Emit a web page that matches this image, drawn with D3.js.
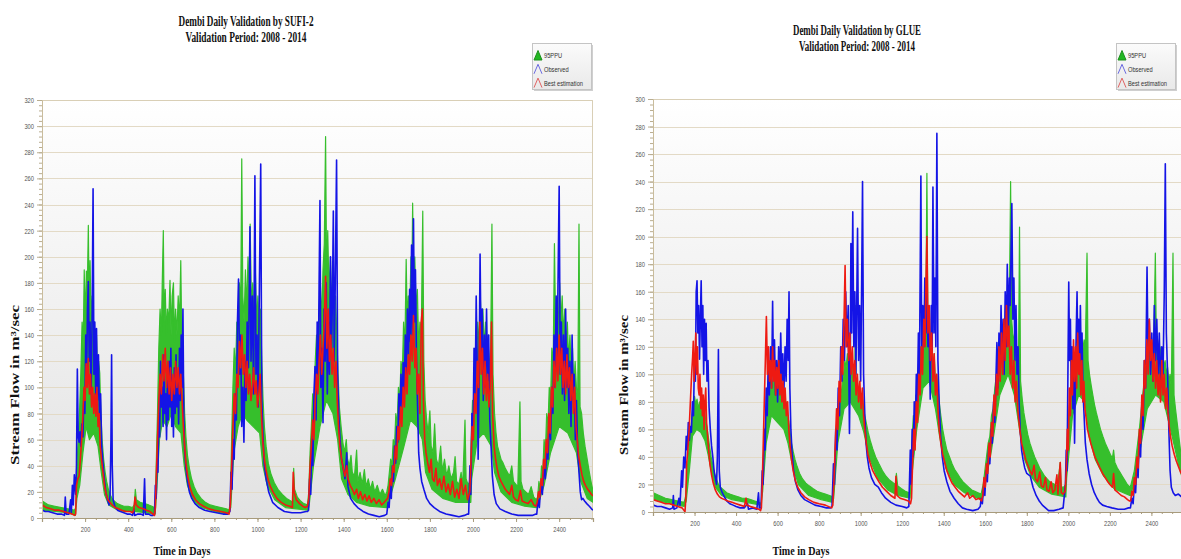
<!DOCTYPE html>
<html>
<head>
<meta charset="utf-8">
<script src="https://cdn.jsdelivr.net/npm/d3@7"></script>
<style>
  html, body { margin: 0; padding: 0; background: #fff; }
  svg { display: block; }
</style>
</head>
<body>
<svg id="chart" width="1181" height="559"></svg>
<script>
// tick labels
const dayTicks = [200, 400, 600, 800, 1000, 1200, 1400, 1600, 1800, 2000, 2200, 2400];
const sufiFlowTicks = [0, 20, 40, 60, 80, 100, 120, 140, 160, 180, 200, 220, 240, 260, 280, 300, 320];
const glueFlowTicks = [0, 20, 40, 60, 80, 100, 120, 140, 160, 180, 200, 220, 240, 260, 280, 300];
const legendLabels = ["95PPU", "Observed", "Best estimation"];

// SUFI-2 panel, [day, m3/s]
const sufiObserved = [
  [1,6],[15,5],[30,5],[50,4],[70,3],[90,3],[104,2],[108,16],[112,3],[125,3],[133,14],[136,4],[141,25],[145,10],[150,33],[156,18],[160,40],[164,114],[168,62],[172,58],[176,66],[180,55],[185,72],[190,62],[195,98],[199,80],[203,140],[207,105],[211,160],[215,181],[219,120],[223,150],[228,95],[233,160],[237,252],[241,110],[245,150],[249,95],[253,145],[257,90],[262,125],[267,75],[272,95],[277,55],[283,42],[289,30],[296,20],[304,14],[311,10],[316,18],[320,60],[323,125],[326,40],[330,14],[338,9],[350,6],[364,5],
  [380,4],[395,3],[410,3],[420,2],[426,7],[430,2],[445,3],[460,3],[470,2],[476,30],[480,3],[495,3],[505,2],[515,2],[522,3],[526,25],[530,15],[534,45],[538,35],[542,80],[546,62],[550,120],[554,85],[558,100],[562,70],[566,125],[570,80],[574,95],[578,60],[582,110],[586,75],[590,120],[594,85],[598,130],[602,70],[606,100],[610,62],[614,115],[618,80],[622,125],[626,85],[630,110],[634,72],[638,130],[642,90],[646,140],[650,100],[654,160],[658,78],[662,52],[668,38],[675,28],[684,20],[695,15],[710,11],[730,8],[755,6],[780,5],[810,4],[840,3],[862,3],
  [872,5],[877,35],[882,22],[887,60],[892,45],[897,95],[902,75],[907,150],[912,183],[917,110],[922,140],[927,70],[932,100],[937,58],[942,120],[947,90],[952,150],[958,115],[965,223],[970,120],[976,170],[982,95],[988,262],[993,110],[998,140],[1003,85],[1009,180],[1015,271],[1020,90],[1026,60],[1032,40],[1040,30],[1052,20],[1070,12],[1095,8],[1125,5],[1160,4],[1200,4],[1225,5],
  [1232,5],[1237,6],[1242,30],[1247,18],[1252,60],[1257,40],[1262,95],[1267,116],[1272,75],[1277,150],[1282,110],[1286,180],[1290,243],[1294,100],[1299,130],[1304,73],[1309,160],[1314,120],[1319,180],[1324,95],[1329,150],[1334,110],[1339,200],[1344,130],[1348,170],[1352,235],[1356,120],[1361,180],[1367,274],[1372,110],[1377,80],[1383,60],[1390,45],[1398,38],[1406,30],[1414,50],[1420,24],[1432,15],[1448,11],[1465,8],[1490,5],[1515,3],[1540,2],[1565,1],[1590,2],
  [1600,3],[1606,12],[1611,8],[1616,25],[1621,15],[1626,40],[1631,28],[1636,55],[1641,42],[1646,70],[1651,58],[1656,95],[1661,75],[1666,110],[1671,85],[1676,119],[1681,95],[1686,140],[1691,110],[1696,160],[1701,125],[1706,175],[1710,135],[1715,209],[1719,140],[1724,229],[1728,150],[1733,190],[1738,120],[1743,85],[1748,50],[1754,38],[1762,28],[1772,22],[1785,15],[1800,11],[1820,8],[1845,5],[1875,3],[1905,2],[1935,1],[1960,2],[1975,3],
  [1980,3],[1986,40],[1990,18],[1995,80],[2000,60],[2005,130],[2010,95],[2015,170],[2020,110],[2024,45],[2028,100],[2033,202],[2038,120],[2043,160],[2048,90],[2053,140],[2058,100],[2063,160],[2068,105],[2073,140],[2078,75],[2084,55],[2090,32],[2098,18],[2108,11],[2125,7],[2150,5],[2180,3],[2210,2],[2245,2],[2275,2],[2292,3],
  [2296,3],[2302,14],[2308,8],[2315,25],[2322,18],[2330,40],[2336,30],[2342,55],[2348,45],[2354,75],[2360,60],[2366,100],[2371,80],[2376,140],[2381,100],[2386,170],[2390,120],[2395,185],[2400,254],[2405,110],[2410,150],[2415,95],[2420,140],[2425,90],[2430,160],[2435,100],[2440,130],[2445,80],[2450,120],[2455,70],[2460,140],[2465,90],[2470,110],[2475,60],[2480,90],[2486,50],[2492,35],[2498,20],[2504,14],[2510,15],[2518,13],[2528,11],[2540,9],[2550,7],[2557,6]
];
const sufiBest = [
  [1,10],[20,8],[40,7],[60,6],[80,6],[100,5],[120,4],[140,3],[152,2],[156,3],[160,25],[166,30],[172,32],[178,45],[184,60],[190,80],[195,100],[200,90],[205,118],[210,100],[215,122],[220,95],[225,110],[230,85],[235,100],[240,80],[245,95],[250,78],[255,100],[260,70],[265,80],[270,55],[276,45],[283,35],[290,25],[298,18],[306,14],[315,12],[325,10],[340,8],[355,7],[370,6],[390,5],[410,5],[420,4],[426,6],[432,16],[437,10],[450,8],[470,7],[485,6],[500,5],[515,3],[522,2],[526,8],
  [530,30],[536,60],[542,90],[548,110],[554,95],[560,125],[566,105],[572,130],[578,100],[584,120],[590,95],[596,115],[602,90],[608,110],[614,95],[620,120],[626,100],[632,115],[638,95],[644,110],[650,90],[656,70],[662,55],[668,42],[676,32],[686,24],[698,18],[712,14],[730,11],[750,9],[775,7],[800,6],[830,5],[855,4],[868,3],
  [874,10],[880,40],[886,70],[892,95],[898,80],[904,110],[910,100],[916,135],[922,115],[928,140],[934,110],[940,125],[946,100],[952,120],[958,95],[964,110],[970,90],[976,100],[982,115],[988,95],[994,105],[1000,85],[1006,95],[1012,110],[1018,80],[1024,60],[1030,48],[1038,38],[1048,30],[1060,24],[1075,19],[1090,15],[1110,12],[1130,10],[1150,9],[1162,8],[1166,35],[1170,20],[1180,14],[1195,11],[1210,9],[1222,8],[1232,9],
  [1238,15],[1244,40],[1250,55],[1256,75],[1262,60],[1268,90],[1274,110],[1280,95],[1286,120],[1292,140],[1298,110],[1304,130],[1310,150],[1316,185],[1322,130],[1328,160],[1334,120],[1340,140],[1346,110],[1352,130],[1358,100],[1364,120],[1370,90],[1376,70],[1382,55],[1390,45],[1398,38],[1406,32],[1414,40],[1420,30],[1430,25],[1440,22],[1450,18],[1460,22],[1468,15],[1478,20],[1488,14],[1498,18],[1508,13],[1518,17],[1528,12],[1540,15],[1552,11],[1564,14],[1576,10],[1588,12],[1598,14],
  [1604,15],[1610,20],[1616,30],[1622,25],[1628,40],[1634,35],[1640,55],[1646,45],[1652,70],[1658,60],[1664,85],[1670,70],[1676,100],[1682,85],[1688,115],[1694,95],[1700,125],[1706,110],[1712,140],[1718,120],[1724,155],[1730,115],[1736,130],[1742,95],[1748,110],[1754,80],[1760,150],[1765,160],[1770,90],[1776,60],[1782,50],[1790,42],[1798,35],[1806,45],[1812,30],[1820,28],[1828,38],[1835,25],[1845,30],[1855,22],[1865,32],[1875,20],[1885,26],[1895,18],[1905,28],[1915,16],[1925,22],[1935,15],[1945,30],[1955,18],[1965,25],[1975,14],[1985,20],
  [1990,40],[1996,70],[2002,60],[2008,95],[2014,80],[2020,120],[2026,100],[2032,150],[2038,110],[2044,130],[2050,95],[2056,120],[2062,90],[2068,110],[2074,85],[2080,100],[2086,150],[2091,80],[2098,55],[2105,45],[2112,38],[2120,32],[2130,28],[2140,25],[2150,22],[2160,20],[2170,18],[2180,25],[2188,16],[2198,14],[2210,13],[2220,21],[2228,13],[2240,12],[2255,11],[2270,14],[2282,10],[2292,9],
  [2298,12],[2304,20],[2310,16],[2316,30],[2322,25],[2328,45],[2334,38],[2340,60],[2346,50],[2352,80],[2358,65],[2364,100],[2370,85],[2376,120],[2382,100],[2388,130],[2394,105],[2400,140],[2406,110],[2412,130],[2418,100],[2424,120],[2430,95],[2436,125],[2442,100],[2448,115],[2454,90],[2460,110],[2466,80],[2472,100],[2478,70],[2484,60],[2490,48],[2498,40],[2506,33],[2514,28],[2522,25],[2532,22],[2542,20],[2550,18],[2557,17]
];
const sufiUpper = [
  [1,13],[30,10],[60,9],[90,8],[120,7],[150,6],[158,8],[162,40],[168,60],[174,80],[180,110],[186,150],[191,130],[196,190],[201,150],[206,189],[210,170],[215,224],[219,160],[223,197],[228,150],[233,170],[238,130],[243,150],[248,120],[253,140],[258,110],[263,120],[268,111],[273,80],[279,60],[286,45],[293,35],[300,28],[308,22],[316,18],[325,15],[335,13],[350,11],[365,10],[380,9],[400,9],[420,8],[428,10],[433,22],[438,14],[455,12],[475,11],[495,10],[510,9],[520,8],[526,10],
  [530,40],[536,80],[542,130],[548,160],[554,140],[558,180],[563,220],[567,150],[572,175],[577,140],[582,160],[588,150],[594,182],[599,140],[604,170],[610,180],[615,135],[620,160],[626,140],[632,170],[638,150],[644,197],[649,130],[654,120],[658,100],[662,80],[668,62],[675,48],[684,38],[694,30],[706,24],[720,19],[738,15],[758,12],[780,10],[805,9],[830,8],[855,7],[868,6],
  [874,12],[880,60],[886,100],[892,130],[898,110],[904,150],[910,140],[916,180],[922,160],[927,275],[932,170],[938,150],[944,190],[950,160],[956,200],[962,170],[966,225],[972,160],[978,180],[984,150],[990,190],[996,150],[1002,170],[1008,140],[1014,160],[1020,120],[1026,90],[1032,70],[1040,55],[1050,42],[1062,34],[1078,27],[1095,22],[1115,18],[1135,15],[1155,13],[1164,12],[1168,38],[1172,22],[1185,16],[1200,13],[1215,11],[1232,10],
  [1238,20],[1244,50],[1250,70],[1256,95],[1262,80],[1268,120],[1274,140],[1280,125],[1286,160],[1292,180],[1298,150],[1304,190],[1310,210],[1316,292],[1321,180],[1326,220],[1332,170],[1338,200],[1344,160],[1350,190],[1356,150],[1362,170],[1368,140],[1374,110],[1380,85],[1388,70],[1396,58],[1404,50],[1412,60],[1418,45],[1426,40],[1434,48],[1440,35],[1450,32],[1460,52],[1466,28],[1476,35],[1486,26],[1496,37],[1504,24],[1514,30],[1524,22],[1534,28],[1544,20],[1556,25],[1568,18],[1580,22],[1592,17],[1600,20],
  [1606,25],[1612,35],[1618,45],[1624,40],[1630,60],[1636,55],[1642,80],[1648,70],[1654,100],[1660,90],[1666,120],[1672,110],[1678,150],[1684,130],[1690,198],[1695,150],[1700,170],[1706,150],[1712,200],[1716,170],[1720,241],[1725,180],[1730,200],[1736,160],[1742,175],[1748,130],[1754,150],[1760,140],[1767,235],[1772,120],[1778,90],[1785,75],[1792,65],[1800,82],[1806,55],[1815,50],[1822,72],[1830,45],[1840,40],[1850,55],[1858,36],[1868,45],[1878,32],[1888,40],[1898,30],[1910,35],[1917,47],[1924,28],[1935,26],[1945,35],[1952,24],[1963,75],[1968,30],[1978,25],[1988,30],
  [1992,60],[1998,90],[2004,80],[2010,120],[2016,110],[2022,150],[2028,130],[2034,170],[2040,140],[2046,160],[2052,130],[2058,150],[2064,120],[2070,140],[2076,110],[2082,130],[2088,225],[2093,110],[2100,80],[2107,65],[2114,55],[2122,50],[2130,45],[2140,42],[2150,38],[2160,35],[2170,32],[2180,40],[2188,28],[2198,26],[2208,24],[2218,89],[2223,28],[2232,22],[2245,20],[2258,18],[2270,24],[2282,16],[2294,14],
  [2300,16],[2306,28],[2312,22],[2318,40],[2324,35],[2330,60],[2336,50],[2342,80],[2348,70],[2354,100],[2360,90],[2366,130],[2372,115],[2378,210],[2384,140],[2390,160],[2396,150],[2402,180],[2408,150],[2414,170],[2420,140],[2426,160],[2432,130],[2438,150],[2444,120],[2450,140],[2456,110],[2462,130],[2468,100],[2474,120],[2480,100],[2486,90],[2492,225],[2497,85],[2504,80],[2512,65],[2520,55],[2530,45],[2540,35],[2550,26],[2557,21]
];
const sufiLower = [
  [1,6],[60,5],[120,4],[155,2],[162,15],[175,25],[190,50],[205,70],[220,60],[240,65],[260,55],[275,35],[290,18],[310,10],[340,7],[380,5],[430,5],[480,4],[525,3],
  [532,20],[545,60],[560,75],[580,70],[600,80],[620,70],[645,65],[660,40],[675,25],[700,14],[740,8],[800,5],[865,3],
  [876,8],[890,50],[910,70],[930,80],[950,75],[980,70],[1010,65],[1025,40],[1045,25],[1080,14],[1130,8],[1180,7],[1235,6],
  [1240,10],[1260,40],[1290,70],[1320,90],[1350,80],[1372,60],[1390,30],[1420,18],[1460,12],[1520,9],[1600,8],
  [1606,10],[1640,30],[1680,55],[1710,75],[1740,70],[1765,60],[1780,35],[1810,22],[1860,15],[1920,12],[1990,12],
  [1994,30],[2020,60],[2050,65],[2085,55],[2100,35],[2130,20],[2180,12],[2240,9],[2295,8],
  [2302,10],[2330,25],[2360,50],[2400,70],[2440,65],[2480,50],[2500,28],[2530,15],[2557,12]
];

// GLUE panel
const glueObserved = [
  [1,5],[20,4],[40,4],[60,3],[80,2],[95,3],[98,12],[101,2],[115,3],[125,10],[130,5],[138,30],[142,18],[148,40],[154,32],[160,55],[165,45],[170,65],[175,52],[180,62],[185,58],[190,80],[195,70],[200,115],[204,95],[208,160],[212,168],[216,130],[220,150],[224,111],[228,140],[232,168],[236,120],[240,150],[244,100],[248,140],[252,110],[256,137],[260,95],[265,110],[270,76],[276,60],[282,48],[288,40],[294,30],[300,25],[306,20],[310,40],[315,118],[319,30],[324,18],[331,15],[340,12],[355,8],[370,6],[386,5],
  [400,4],[420,3],[440,3],[455,6],[460,2],[480,3],[500,2],[508,14],[512,3],[520,3],[526,30],[530,20],[536,60],[540,45],[545,90],[550,70],[555,110],[560,85],[566,120],[571,90],[576,153],[580,100],[585,125],[590,85],[595,110],[600,80],[605,120],[610,90],[615,130],[620,95],[625,115],[630,85],[636,120],[641,95],[646,140],[651,110],[655,160],[659,90],[664,60],[670,42],[677,30],[686,22],[698,16],[712,12],[730,9],[755,7],[780,5],[810,4],[835,3],[855,3],
  [862,4],[869,35],[874,20],[880,60],[886,45],[892,90],[898,70],[904,120],[910,95],[916,140],[922,110],[928,160],[934,120],[940,150],[946,57],[950,110],[953,195],[957,130],[962,218],[967,120],[972,160],[977,100],[981,150],[985,206],[990,110],[995,150],[1000,95],[1005,170],[1009,240],[1014,100],[1020,70],[1026,50],[1032,40],[1040,32],[1052,25],[1068,20],[1085,18],[1100,14],[1120,10],[1145,7],[1170,5],[1200,4],[1222,3],
  [1232,4],[1239,45],[1243,20],[1248,60],[1253,40],[1258,80],[1263,60],[1268,100],[1273,80],[1278,130],[1283,100],[1290,244],[1294,110],[1299,150],[1304,120],[1309,170],[1314,130],[1319,160],[1324,120],[1329,140],[1335,82],[1340,150],[1344,110],[1348,236],[1353,130],[1358,170],[1362,120],[1367,275],[1372,110],[1378,80],[1385,55],[1393,40],[1402,30],[1415,22],[1430,15],[1450,10],[1470,6],[1490,3],[1510,2],[1540,1],[1565,2],[1576,4],
  [1580,10],[1586,6],[1592,18],[1598,12],[1604,30],[1610,22],[1616,45],[1622,35],[1628,60],[1634,50],[1640,80],[1646,65],[1652,100],[1656,123],[1661,90],[1666,130],[1671,100],[1676,150],[1681,110],[1686,140],[1691,100],[1696,160],[1701,120],[1706,180],[1711,130],[1716,170],[1720,150],[1728,224],[1733,140],[1738,170],[1743,110],[1748,150],[1753,100],[1758,120],[1763,80],[1768,60],[1775,45],[1782,38],[1790,32],[1800,28],[1817,26],[1830,18],[1845,12],[1860,8],[1875,5],[1890,3],[1905,1],[1930,1],[1955,2],[1975,3],
  [1986,20],[1990,45],[1994,30],[1998,100],[2002,167],[2006,110],[2010,140],[2014,90],[2018,120],[2022,75],[2026,110],[2030,50],[2034,95],[2038,130],[2042,160],[2046,110],[2050,140],[2054,100],[2058,150],[2062,110],[2066,130],[2070,90],[2076,70],[2082,50],[2090,38],[2100,28],[2112,20],[2125,14],[2138,10],[2150,7],[2165,5],[2185,4],[2210,3],[2240,2],[2270,2],[2290,3],
  [2299,3],[2306,10],[2312,6],[2318,20],[2324,14],[2330,35],[2336,25],[2342,55],[2348,40],[2354,80],[2360,60],[2366,110],[2372,90],[2379,178],[2384,110],[2390,140],[2396,100],[2402,130],[2408,95],[2414,150],[2420,110],[2426,140],[2432,100],[2438,130],[2444,90],[2450,120],[2456,100],[2462,160],[2467,253],[2472,130],[2478,100],[2484,60],[2490,30],[2496,18],[2505,14],[2515,12],[2530,13],[2545,11],[2557,10]
];
const glueBest = [
  [1,9],[20,8],[40,7],[60,6],[80,6],[100,5],[120,4],[140,3],[150,1],[154,0],[158,10],[162,35],[168,45],[174,60],[180,80],[186,100],[191,113],[194,124],[198,95],[202,110],[206,130],[210,100],[214,120],[218,90],[222,85],[226,100],[230,75],[234,90],[238,70],[242,85],[246,60],[250,80],[254,90],[258,65],[263,55],[268,45],[274,35],[282,27],[290,21],[300,16],[310,13],[320,11],[330,10],[345,9],[360,8],[380,7],[400,6],[420,5],[440,4],[448,10],[452,5],[470,4],[490,3],[510,2],[518,1],[522,3],
  [526,20],[531,50],[536,80],[541,110],[546,142],[551,100],[556,120],[561,95],[566,110],[571,90],[576,120],[581,95],[586,110],[591,85],[596,105],[601,90],[606,110],[611,85],[616,100],[621,80],[626,95],[631,75],[636,90],[642,70],[648,80],[654,60],[660,48],[667,38],[675,30],[685,23],[697,18],[712,14],[730,11],[750,9],[775,7],[800,6],[830,5],[860,3],
  [866,5],[872,25],[878,50],[884,75],[890,60],[896,95],[902,80],[908,120],[914,100],[920,140],[925,179],[930,120],[936,140],[942,110],[948,130],[954,100],[960,120],[966,95],[972,110],[978,85],[984,100],[990,80],[996,95],[1002,75],[1008,90],[1014,70],[1020,60],[1027,50],[1035,42],[1045,36],[1058,30],[1072,26],[1088,22],[1105,18],[1125,15],[1145,12],[1165,10],[1170,26],[1175,12],[1190,10],[1210,9],[1230,8],[1240,6],
  [1245,10],[1250,35],[1256,60],[1262,45],[1268,80],[1274,65],[1280,100],[1286,85],[1292,120],[1298,100],[1304,140],[1310,120],[1315,170],[1319,200],[1324,130],[1330,150],[1336,110],[1342,130],[1348,95],[1354,115],[1360,85],[1366,100],[1372,75],[1378,60],[1386,50],[1395,42],[1405,36],[1415,30],[1428,25],[1440,21],[1455,18],[1470,15],[1485,13],[1500,11],[1515,14],[1525,10],[1540,12],[1555,9],[1570,10],[1582,8],
  [1588,12],[1594,25],[1600,18],[1606,35],[1612,28],[1618,50],[1624,40],[1630,65],[1636,55],[1642,85],[1648,70],[1654,100],[1660,85],[1666,120],[1672,95],[1678,130],[1684,100],[1690,140],[1696,110],[1702,150],[1708,120],[1714,135],[1720,100],[1726,120],[1732,90],[1738,110],[1744,80],[1750,95],[1756,75],[1762,66],[1768,58],[1775,50],[1785,44],[1795,38],[1805,34],[1815,30],[1825,27],[1835,34],[1842,24],[1852,22],[1862,29],[1870,19],[1880,18],[1890,25],[1897,16],[1907,15],[1917,22],[1925,14],[1935,16],[1945,27],[1950,13],[1961,36],[1966,14],[1975,13],[1985,15],
  [1990,30],[1995,60],[2000,45],[2005,90],[2010,70],[2015,110],[2020,85],[2025,125],[2030,95],[2035,120],[2040,90],[2045,130],[2050,100],[2055,115],[2060,85],[2065,110],[2070,80],[2075,95],[2080,75],[2086,68],[2092,60],[2100,55],[2108,50],[2118,45],[2128,40],[2140,36],[2152,32],[2165,28],[2178,25],[2190,22],[2200,20],[2212,18],[2218,28],[2224,16],[2240,14],[2255,12],[2270,11],[2285,9],[2295,8],
  [2300,8],[2306,15],[2312,12],[2318,25],[2324,20],[2330,40],[2336,32],[2342,60],[2348,50],[2354,85],[2360,70],[2366,110],[2372,90],[2378,125],[2384,100],[2390,140],[2396,110],[2402,125],[2408,95],[2414,115],[2420,90],[2426,110],[2432,85],[2438,100],[2444,80],[2450,110],[2456,85],[2462,100],[2468,75],[2474,90],[2480,72],[2486,62],[2492,55],[2500,48],[2510,42],[2520,37],[2530,33],[2540,29],[2557,25]
];
const glueUpper = [
  [1,14],[30,12],[60,10],[90,9],[120,8],[150,7],[158,12],[164,30],[170,40],[176,50],[182,60],[188,70],[194,80],[200,84],[206,78],[212,82],[218,75],[224,80],[230,72],[236,78],[242,70],[248,74],[254,66],[260,62],[266,55],[272,48],[280,40],[288,34],[296,28],[305,24],[315,20],[325,18],[340,16],[355,14],[370,13],[390,12],[410,11],[430,10],[450,10],[470,9],[490,8],[510,7],[522,6],
  [528,25],[534,45],[540,60],[546,75],[552,85],[558,95],[564,90],[570,100],[576,92],[582,98],[588,88],[594,95],[600,85],[606,92],[612,82],[618,88],[624,80],[630,85],[636,76],[642,80],[648,70],[654,66],[660,58],[667,50],[675,44],[684,38],[694,33],[706,28],[720,24],[736,21],[752,19],[770,17],[790,15],[810,14],[830,13],[850,12],[866,11],
  [870,20],[876,40],[882,60],[888,70],[894,80],[900,90],[906,85],[912,95],[918,100],[924,110],[930,105],[936,115],[942,100],[948,110],[954,95],[960,105],[966,92],[972,100],[975,150],[978,88],[984,95],[990,85],[996,90],[1002,80],[1008,85],[1014,75],[1020,70],[1028,64],[1036,58],[1046,52],[1058,46],[1072,40],[1088,35],[1105,30],[1122,26],[1140,23],[1158,21],[1168,20],[1172,28],[1178,19],[1195,17],[1215,15],[1235,14],
  [1242,30],[1248,55],[1254,70],[1260,65],[1266,85],[1272,80],[1278,100],[1284,95],[1290,120],[1296,110],[1302,130],[1308,120],[1314,150],[1319,246],[1324,130],[1330,140],[1336,115],[1342,125],[1348,105],[1354,115],[1360,95],[1366,100],[1372,90],[1378,80],[1386,70],[1395,60],[1405,52],[1415,45],[1428,40],[1440,35],[1452,31],[1465,28],[1478,25],[1492,22],[1506,20],[1520,18],[1535,16],[1550,15],[1565,14],[1580,13],
  [1590,20],[1598,30],[1606,40],[1614,50],[1622,55],[1630,70],[1638,75],[1646,90],[1654,100],[1662,110],[1670,115],[1678,125],[1686,120],[1694,135],[1702,125],[1710,145],[1716,150],[1722,240],[1727,140],[1732,130],[1738,125],[1744,120],[1750,115],[1756,110],[1760,105],[1765,207],[1770,95],[1778,82],[1786,72],[1795,64],[1805,56],[1815,50],[1826,45],[1838,40],[1850,36],[1862,32],[1874,29],[1886,26],[1898,24],[1910,22],[1922,21],[1935,20],[1948,19],[1961,36],[1966,18],[1978,18],[1988,20],
  [1992,40],[1998,60],[2004,75],[2010,85],[2016,95],[2022,100],[2028,110],[2034,105],[2040,115],[2046,110],[2052,120],[2058,115],[2064,125],[2070,118],[2076,125],[2082,120],[2090,188],[2095,110],[2102,100],[2110,92],[2118,85],[2126,78],[2135,72],[2145,66],[2155,60],[2166,55],[2178,50],[2190,46],[2202,42],[2212,39],[2218,45],[2224,36],[2236,32],[2248,29],[2260,26],[2272,23],[2284,20],[2296,18],
  [2302,20],[2310,25],[2318,30],[2326,40],[2334,50],[2342,60],[2350,72],[2358,85],[2366,95],[2374,105],[2382,110],[2390,115],[2398,120],[2406,115],[2412,125],[2419,188],[2424,120],[2430,125],[2436,115],[2442,120],[2448,110],[2454,118],[2460,105],[2466,110],[2472,100],[2478,105],[2484,95],[2490,100],[2496,90],[2504,188],[2509,85],[2516,75],[2524,65],[2532,55],[2540,45],[2548,35],[2557,28]
];
const glueLower = [
  [1,9],[60,7],[120,5],[150,4],[160,8],[175,30],[190,55],[210,60],[230,58],[250,52],[265,42],[280,30],[300,18],[330,12],[380,9],[450,7],[520,5],
  [528,15],[545,50],[570,70],[600,65],[630,60],[650,50],[670,35],[700,20],[750,12],[810,9],[866,7],
  [870,10],[890,50],[920,75],[950,80],[990,70],[1015,58],[1040,40],[1080,25],[1130,16],[1180,12],[1238,10],
  [1242,20],[1270,60],[1300,90],[1330,95],[1360,75],[1380,55],[1410,32],[1450,20],[1500,14],[1580,9],
  [1590,12],[1630,45],[1670,85],[1710,100],[1740,85],[1765,60],[1790,38],[1820,26],[1860,18],[1920,13],[1988,11],
  [1992,25],[2020,70],[2050,85],[2080,80],[2100,55],[2130,38],[2170,26],[2220,17],[2296,12],
  [2302,12],[2340,40],[2380,75],[2420,85],[2460,80],[2500,55],[2530,35],[2557,20]
];

const svg = d3.select("#chart");
const defs = svg.append("defs");

const bg = defs.append("linearGradient").attr("id", "plotBg")
  .attr("x1", 0).attr("y1", 0).attr("x2", 0).attr("y2", 1);
bg.append("stop").attr("offset", "0%").attr("stop-color", "#ffffff");
bg.append("stop").attr("offset", "100%").attr("stop-color", "#e2e2e2");

const lg = defs.append("linearGradient").attr("id", "legendBg")
  .attr("x1", 0).attr("y1", 0).attr("x2", 0).attr("y2", 1);
lg.append("stop").attr("offset", "0%").attr("stop-color", "#fbfbfb");
lg.append("stop").attr("offset", "100%").attr("stop-color", "#e9e9e9");

// squeeze text horizontally (the picture is narrow)
function squeeze(sel, k) {
  sel.each(function() {
    const w = this.getComputedTextLength();
    d3.select(this).attr("textLength", w * k).attr("lengthAdjust", "spacingAndGlyphs");
  });
}

function addText(x, y, txt, size, width, opts = {}) {
  const t = svg.append("text")
    .attr("x", x).attr("y", y)
    .attr("text-anchor", "middle")
    .style("font-family", "'Liberation Serif', 'Times New Roman', serif")
    .style("font-weight", "bold")
    .style("font-size", size + "px")
    .attr("fill", "#111")
    .text(txt);
  if (opts.rotate) t.attr("transform", `rotate(-90,${x},${y})`);
  if (width) t.attr("textLength", width).attr("lengthAdjust", "spacingAndGlyphs");
  return t;
}

function drawPanel(p) {
  const x = d3.scaleLinear().domain([0, 2557]).range([p.left, p.right]);
  const y = d3.scaleLinear().domain([0, p.yMax]).range([p.bottom, p.top]);
  const g = svg.append("g");

  g.append("rect")
    .attr("x", p.left).attr("y", p.top)
    .attr("width", p.right - p.left).attr("height", p.bottom - p.top)
    .attr("fill", "url(#plotBg)");

  // horizontal grid
  g.append("g").selectAll("line")
    .data(p.yTicks.filter(d => d > 0))
    .join("line")
    .attr("x1", p.left).attr("x2", p.right)
    .attr("y1", d => Math.round(y(d)) + 0.5).attr("y2", d => Math.round(y(d)) + 0.5)
    .attr("stroke", "#e3dac6").attr("stroke-width", 1);

  // frame (top, right)
  g.append("path")
    .attr("d", `M${p.left},${p.top + 0.5}H${p.right - 0.5}V${p.bottom}`)
    .attr("fill", "none").attr("stroke", "#d9cfb6");

  svg.append("clipPath").attr("id", "clip-" + p.id)
    .append("rect")
    .attr("x", p.left).attr("y", p.top)
    .attr("width", p.right - p.left).attr("height", p.bottom - p.top);

  const plot = g.append("g").attr("clip-path", `url(#clip-${p.id})`);
  const line = d3.line().x(d => x(d[0])).y(d => y(d[1]));

  // 95PPU band: upper edge then lower edge backwards
  plot.append("path")
    .attr("d", line(p.upper.concat(p.lower.slice().reverse())) + "Z")
    .attr("fill", "#36bf2c")
    .attr("stroke", "#36bf2c").attr("stroke-width", 1.2)
    .attr("stroke-linejoin", "round");

  plot.append("path")
    .attr("d", line(p.observed))
    .attr("fill", "none").attr("stroke", "#1414e6").attr("stroke-width", 1.6)
    .attr("stroke-linejoin", "round");

  plot.append("path")
    .attr("d", line(p.best))
    .attr("fill", "none").attr("stroke", "#ee1a12").attr("stroke-width", 1.6)
    .attr("stroke-linejoin", "round");

  // y axis
  const yMinor = g.append("g").attr("transform", `translate(${p.left},0)`)
    .call(d3.axisLeft(y).tickValues(d3.range(0, p.yMax + 1, 4)).tickSize(3).tickFormat(""));
  yMinor.select(".domain").remove();
  yMinor.selectAll("line").attr("stroke", "#b9ad90");

  const yAxis = g.append("g").attr("transform", `translate(${p.left},0)`)
    .call(d3.axisLeft(y).tickValues(p.yTicks).tickSize(5).tickPadding(3).tickFormat(d3.format("d")));
  yAxis.select(".domain").attr("stroke", "#c9bc9c");
  yAxis.selectAll("line").attr("stroke", "#b9ad90");
  yAxis.selectAll("text")
    .attr("fill", "#555")
    .style("font-family", "'Liberation Sans', Arial, sans-serif")
    .style("font-size", "8px")
    .call(squeeze, 0.72);

  // x axis
  const xMinor = g.append("g").attr("transform", `translate(0,${p.bottom})`)
    .call(d3.axisBottom(x).tickValues(d3.range(50, 2557, 50)).tickSize(2).tickFormat(""));
  xMinor.select(".domain").remove();
  xMinor.selectAll("line").attr("stroke", "#a89b7c");

  const xAxis = g.append("g").attr("transform", `translate(0,${p.bottom})`)
    .call(d3.axisBottom(x).tickValues(dayTicks).tickSize(4).tickPadding(4).tickFormat(d3.format("d")));
  xAxis.select(".domain").attr("stroke", "#a89b7c").attr("stroke-width", 1.2);
  xAxis.selectAll("line").attr("stroke", "#a89b7c");
  xAxis.selectAll("text")
    .attr("fill", "#555")
    .style("font-family", "'Liberation Sans', Arial, sans-serif")
    .style("font-size", "8px")
    .call(squeeze, 0.72);

  // titles
  addText(p.titleX, p.titleY1, p.title1, 15.5, p.title1W);
  addText(p.titleX, p.titleY2, p.title2, 15.5, p.title2W);
  addText(p.yLabelX, p.yLabelY, "Stream Flow in m³/sec", 13, p.yLabelW, { rotate: true });
  addText(p.xLabelX, p.xLabelY, "Time in Days", 13.5, 57);

  // legend
  const L = svg.append("g").attr("transform", `translate(${p.legX},${p.legY})`);
  L.append("rect").attr("x", 2).attr("y", 2).attr("width", 59).attr("height", 46)
    .attr("fill", "#cfcfcf");
  L.append("rect").attr("x", 0.5).attr("y", 0.5).attr("width", 59).attr("height", 46)
    .attr("fill", "url(#legendBg)").attr("stroke", "#c4c4c4");
  const rows = [
    { label: legendLabels[0], color: "#22b822", filled: true },
    { label: legendLabels[1], color: "#6a6ae0", filled: false },
    { label: legendLabels[2], color: "#e06262", filled: false }
  ];
  rows.forEach((r, i) => {
    const cy = 12.5 + i * 13.8;
    const tri = `M2,${cy + 4.5}L6,${cy - 5}L10,${cy + 4.5}`;
    L.append("path")
      .attr("d", r.filled ? tri + "Z" : tri)
      .attr("fill", r.filled ? r.color : "none")
      .attr("stroke", r.filled ? "#1c8f1c" : r.color)
      .attr("stroke-width", 1);
    L.append("text")
      .attr("x", 12).attr("y", cy + 2.5)
      .attr("fill", "#333")
      .style("font-family", "'Liberation Sans', Arial, sans-serif")
      .style("font-size", "7.5px")
      .text(r.label)
      .call(squeeze, 0.76);
  });
}

drawPanel({
  id: "sufi", left: 42, right: 593, top: 100, bottom: 518, yMax: 320, yTicks: sufiFlowTicks,
  observed: sufiObserved, best: sufiBest, upper: sufiUpper, lower: sufiLower,
  title1: "Dembi Daily Validation by SUFI-2", title2: "Validation Period: 2008 - 2014",
  titleX: 246, titleY1: 25.5, titleY2: 42, title1W: 135, title2W: 121,
  yLabelX: 19, yLabelY: 385, yLabelW: 160,
  xLabelX: 182, xLabelY: 555,
  legX: 532, legY: 43
});

drawPanel({
  id: "glue", left: 653, right: 1184, top: 99, bottom: 512, yMax: 300, yTicks: glueFlowTicks,
  observed: glueObserved, best: glueBest, upper: glueUpper, lower: glueLower,
  title1: "Dembi Daily Validation by GLUE", title2: "Validation Period: 2008 - 2014",
  titleX: 857, titleY1: 34.5, titleY2: 51, title1W: 128, title2W: 116,
  yLabelX: 628, yLabelY: 385, yLabelW: 140,
  xLabelX: 801, xLabelY: 555,
  legX: 1116, legY: 43
});
</script>
</body>
</html>
